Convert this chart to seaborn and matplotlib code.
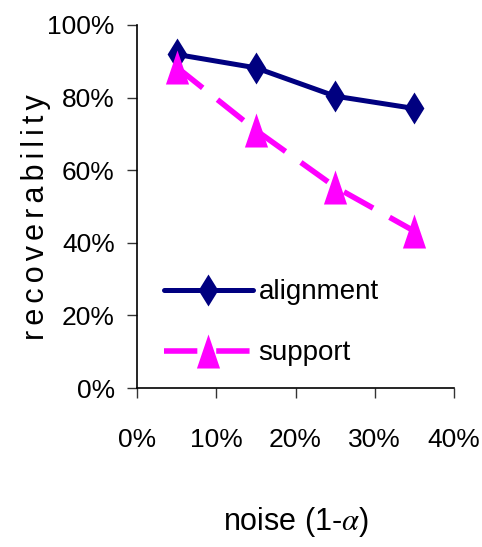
import matplotlib
matplotlib.use("Agg")
import matplotlib.pyplot as plt
import seaborn as sns
import pandas as pd

# noise levels (fraction) and recoverability for each method
noise = [0.05, 0.15, 0.25, 0.35]
alignment = [0.919, 0.882, 0.804, 0.770]
support = [0.884, 0.710, 0.554, 0.432]

x_ticks = [0.0, 0.1, 0.2, 0.3, 0.4]
x_tick_labels = ["0%", "10%", "20%", "30%", "40%"]
y_ticks = [0.0, 0.2, 0.4, 0.6, 0.8, 1.0]
y_tick_labels = ["0%", "20%", "40%", "60%", "80%", "100%"]

sns.set_style("ticks")
plt.rcParams["font.family"] = ["Liberation Sans", "DejaVu Sans"]
plt.rcParams["mathtext.fontset"] = "stix"
plt.rcParams["text.color"] = "black"
plt.rcParams["axes.labelcolor"] = "black"

fig = plt.figure(figsize=(4.82, 5.47), dpi=100)
ax = fig.add_axes([137 / 482, 1 - 388 / 547, (454 - 137) / 482, (388 - 25) / 547])

df = pd.DataFrame({"noise": noise, "alignment": alignment, "support": support})

# tall diamond and tall triangle markers
diamond = [(0, 1), (0.62, 0), (0, -1), (-0.62, 0), (0, 1)]
triangle = [(0, 1), (0.68, -1), (-0.68, -1), (0, 1)]

navy = "#000080"
magenta = "#FF00FF"

sns.lineplot(data=df, x="noise", y="alignment", ax=ax, color=navy, linewidth=3.6,
             marker=diamond, markersize=23, markerfacecolor=navy, markeredgecolor=navy,
             markeredgewidth=0, label="alignment")
sns.lineplot(data=df, x="noise", y="support", ax=ax, color=magenta, linewidth=4,
             linestyle=(0, (6, 3.4)), marker=triangle, markersize=24.5,
             markerfacecolor=magenta, markeredgecolor=magenta, markeredgewidth=0,
             label="support")

ax.set_xlim(0, 0.4)
ax.set_ylim(0, 1.0)
ax.set_xticks(x_ticks)
ax.set_xticklabels(x_tick_labels)
ax.set_yticks(y_ticks)
ax.set_yticklabels(y_tick_labels)
ax.tick_params(axis="both", labelsize=19, length=7, width=1, color="#333333",
               labelcolor="black")
ax.tick_params(axis="x", pad=22)
ax.tick_params(axis="y", pad=9)

sns.despine(ax=ax)
for s in ("left", "bottom"):
    ax.spines[s].set_linewidth(1.2)
    ax.spines[s].set_color("black")

ax.set_xlabel(r"noise (1-$\alpha$)", fontsize=22)
ax.xaxis.set_label_coords(0.5, -0.322)
# letter-spaced axis title using six-per-em spaces
ax.set_ylabel("\u2006".join("recoverability"), fontsize=22)
ax.yaxis.set_label_coords(-0.27, 0.47)

ax.legend(loc="upper left", bbox_to_anchor=(0.05, 0.33), frameon=False, fontsize=20,
          handlelength=3.2, handletextpad=0.2, labelspacing=1.26, borderaxespad=0)

fig.savefig("out.png", dpi=100)
